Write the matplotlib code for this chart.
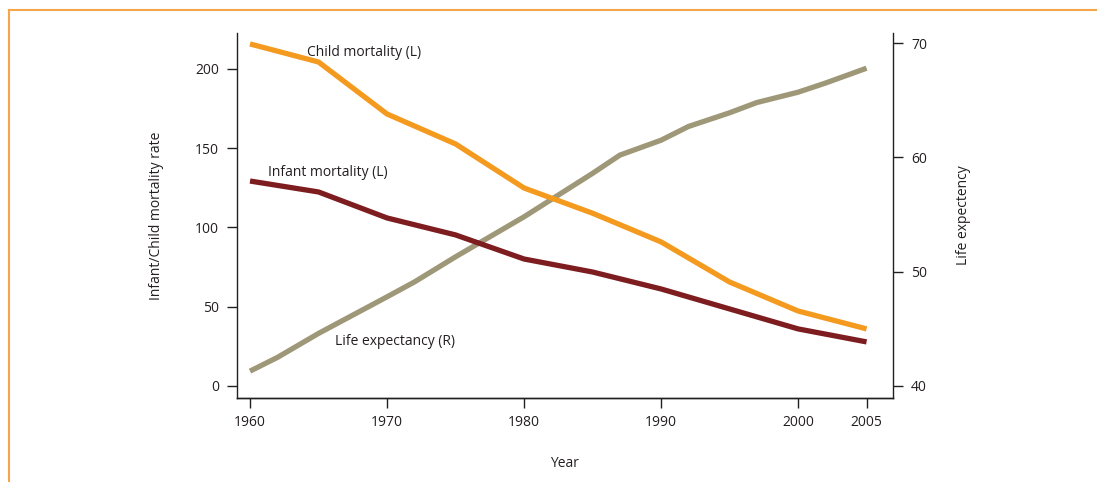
import matplotlib.pyplot as plt
from matplotlib.lines import Line2D

plt.rcParams['font.family'] = ['Open Sans', 'DejaVu Sans']

years = [1960, 1965, 1970, 1975, 1980, 1985, 1990, 1995, 2000, 2005]
child_mortality = [215.8, 204.4, 171.6, 152.7, 124.9, 109.0, 90.9, 65.6, 47.3, 36.0]
infant_mortality = [129.3, 122.4, 106.0, 95.3, 80.1, 71.9, 61.2, 48.6, 36.0, 27.8]

life_years = [1960, 1962, 1965, 1970, 1972, 1975, 1980, 1985, 1987, 1990,
              1992, 1995, 1997, 2000, 2002, 2005]
life_expectancy = [41.3, 42.5, 44.6, 47.8, 49.1, 51.3, 54.8, 58.6, 60.2, 61.5,
                   62.7, 63.9, 64.8, 65.7, 66.5, 67.8]

x_ticks = [1960, 1970, 1980, 1990, 2000, 2005]

c_child = '#f39a1f'
c_infant = '#7e1d20'
c_life = '#9e9878'
txt = '#231f20'
fs = 10

fig = plt.figure(figsize=(10.97, 4.82), dpi=100)
ax = fig.add_axes([237 / 1097, 84 / 482, 656 / 1097, 365 / 482])
ax2 = ax.twinx()

ax2.plot(life_years, life_expectancy, color=c_life, lw=3.8, solid_capstyle='butt')
ax.plot(years, child_mortality, color=c_child, lw=3.8, solid_capstyle='butt', zorder=3)
ax.plot(years, infant_mortality, color=c_infant, lw=3.8, solid_capstyle='butt', zorder=3)
ax.set_zorder(ax2.get_zorder() + 1)
ax.patch.set_visible(False)

ax.set_xlim(1959.05, 2006.93)
ax.set_ylim(-7.6, 222.7)
ax2.set_ylim(38.95, 70.88)

ax.set_xticks(x_ticks)
ax.set_yticks([0, 50, 100, 150, 200])
ax2.set_yticks([40, 50, 60, 70])

for a in (ax, ax2):
    a.spines['top'].set_visible(False)
    for s in a.spines.values():
        s.set_linewidth(1.0)
        s.set_color(txt)
    a.tick_params(direction='out', length=7, width=1.0, colors=txt,
                  labelsize=fs, pad=6)
ax.tick_params(axis='x', pad=5)
ax2.spines['left'].set_visible(False)
ax.spines['right'].set_visible(False)

ax.set_ylabel('Infant/Child mortality rate', fontsize=fs, color=txt, labelpad=22)
ax2.set_ylabel('Life expectency', fontsize=fs, color=txt, labelpad=21)
ax.set_xlabel('Year', fontsize=fs, color=txt, labelpad=19)

ax.text(1964.16, 210.1, 'Child mortality (L)', fontsize=fs, color=txt, ha='left', va='center')
ax.text(1961.3, 134.4, 'Infant mortality (L)', fontsize=fs, color=txt, ha='left', va='center')
ax2.text(1966.2, 43.88, 'Life expectancy (R)', fontsize=fs, color=txt, ha='left', va='center')

# orange frame of the original box
fig.add_artist(Line2D([9 / 1097, 1.0], [1 - 10 / 482, 1 - 10 / 482],
                      color='#f5a54a', lw=1.5))
fig.add_artist(Line2D([9 / 1097, 9 / 1097], [1 - 10 / 482, 0.0],
                      color='#f5a54a', lw=1.5))

fig.savefig('out.png', dpi=100)
